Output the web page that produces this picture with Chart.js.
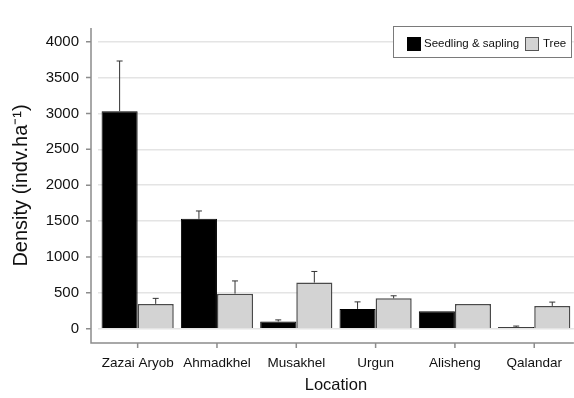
<!DOCTYPE html>
<html>
<head>
<meta charset="utf-8">
<script src="https://cdn.jsdelivr.net/npm/chart.js@4/dist/chart.umd.min.js"></script>
<style>
  html, body { margin: 0; padding: 0; background: #fff; }
  #wrap { width: 574px; height: 398px; position: relative; }
</style>
</head>
<body>
<div id="wrap"><canvas id="c" width="574" height="398"></canvas></div>
<script>
// Stand density by location
const locations = ['Zazai Aryob', 'Ahmadkhel', 'Musakhel', 'Urgun', 'Alisheng', 'Qalandar'];
const seedlingMean = [3030, 1530, 100, 275, 243, 22];
const seedlingErr  = [700, 110, 22, 98, 0, 14];
const treeMean     = [345, 488, 642, 422, 343, 317];
const treeErr      = [77, 177, 155, 36, 0, 53];
const yTicks = [0, 500, 1000, 1500, 2000, 2500, 3000, 3500, 4000];
const seriesNames = ['Seedling & sapling', 'Tree'];

const FONT = "'Liberation Sans', Arial, sans-serif";
const AXIS_X = 91;       // offset y-axis line position
const AXIS_COLOR = '#8c8c8c';

// Draws offset axis lines, tick marks, upward error bars and the boxed legend
const decorations = {
  id: 'decorations',
  afterDatasetsDraw(chart) {
    const ctx = chart.ctx;
    const x = chart.scales.x, y = chart.scales.y;
    const area = chart.chartArea;
    ctx.save();
    // error bars
    ctx.strokeStyle = '#333';
    ctx.lineWidth = 1;
    const errs = [seedlingErr, treeErr];
    const means = [seedlingMean, treeMean];
    chart.data.datasets.forEach((ds, di) => {
      const meta = chart.getDatasetMeta(di);
      meta.data.forEach((bar, i) => {
        const e = errs[di][i];
        if (!e) return;
        const yTop = y.getPixelForValue(means[di][i] + e);
        const yBase = y.getPixelForValue(means[di][i]);
        ctx.beginPath();
        ctx.moveTo(bar.x, yBase);
        ctx.lineTo(bar.x, yTop);
        ctx.moveTo(bar.x - 3, yTop);
        ctx.lineTo(bar.x + 3, yTop);
        ctx.stroke();
      });
    });
    // axes
    ctx.strokeStyle = AXIS_COLOR;
    ctx.lineWidth = 1.5;
    ctx.beginPath();
    ctx.moveTo(AXIS_X, area.top);
    ctx.lineTo(AXIS_X, area.bottom);
    ctx.lineTo(area.right, area.bottom);
    yTicks.forEach(v => {
      const py = y.getPixelForValue(v);
      ctx.moveTo(AXIS_X - 5, py);
      ctx.lineTo(AXIS_X, py);
    });
    locations.forEach((_, i) => {
      const px = x.getPixelForValue(i);
      ctx.moveTo(px, area.bottom);
      ctx.lineTo(px, area.bottom + 5);
    });
    ctx.stroke();
    // legend
    ctx.fillStyle = '#fff';
    ctx.fillRect(393, 26, 179, 32);
    ctx.strokeStyle = '#7a7a7a';
    ctx.lineWidth = 1;
    ctx.strokeRect(393.5, 26.5, 178, 31);
    ctx.font = '11.5px ' + FONT;
    ctx.textBaseline = 'middle';
    ctx.fillStyle = '#000';
    ctx.fillRect(407, 37, 14, 14);
    ctx.fillStyle = '#d3d3d3';
    ctx.fillRect(525, 37, 14, 14);
    ctx.strokeStyle = '#555';
    ctx.strokeRect(525.5, 37.5, 13, 13);
    ctx.fillStyle = '#111';
    ctx.fillText(seriesNames[0], 424, 44);
    ctx.fillText(seriesNames[1], 543, 44);
    ctx.restore();
  }
};

new Chart(document.getElementById('c'), {
  type: 'bar',
  data: {
    labels: locations,
    datasets: [
      { label: seriesNames[0], data: seedlingMean, backgroundColor: '#000', borderColor: '#000', borderWidth: 1 },
      { label: seriesNames[1], data: treeMean, backgroundColor: '#d3d3d3', borderColor: '#4a4a4a', borderWidth: 1.5 }
    ]
  },
  options: {
    responsive: false,
    animation: false,
    layout: { padding: { left: 9, right: 0, top: 10, bottom: 3 } },
    datasets: { bar: { categoryPercentage: 0.91, barPercentage: 1.0 } },
    plugins: { legend: { display: false }, tooltip: { enabled: false } },
    scales: {
      x: {
        grid: { display: false, drawTicks: false },
        border: { display: false },
        ticks: { color: '#111', font: { family: FONT, size: 13.5 }, padding: 12 },
        title: { display: true, text: 'Location', color: '#111', font: { family: FONT, size: 16.5 }, padding: { top: 6, bottom: 0 } },
        afterFit(s) { s.height = 52; }
      },
      y: {
        min: -200,
        max: 4190,
        afterBuildTicks(s) { s.ticks = yTicks.map(v => ({ value: v })); },
        grid: { color: '#e4e4e4', lineWidth: 1.5, drawTicks: false },
        border: { display: false },
        ticks: { color: '#111', font: { family: FONT, size: 15 }, padding: 19, callback: v => String(v) },
        title: { display: true, text: 'Density (indv.ha⁻¹)', color: '#111', font: { family: FONT, size: 20 }, padding: { top: 0, bottom: 0 } },
        afterFit(s) { s.width = 89; }
      }
    }
  },
  plugins: [decorations]
});
</script>
</body>
</html>
